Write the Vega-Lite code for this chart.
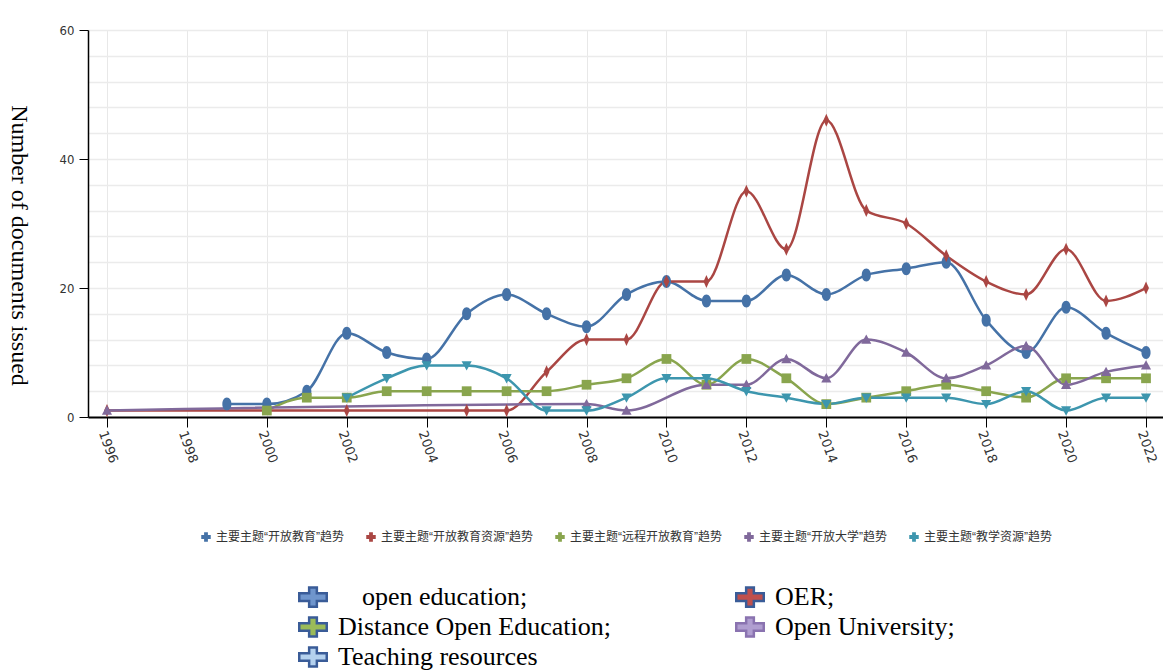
{
  "$schema": "https://vega.github.io/schema/vega-lite/v6.json",
  "width": 1075,
  "height": 387,
  "autosize": {"type": "none"},
  "padding": {"left": 88, "top": 30, "right": 0, "bottom": 254},
  "background": "white",
  "config": {"view": {"stroke": null}},
  "datasets": {
    "d": [
      {"year":1999,"value":2,"series":"主要主题“开放教育”趋势","en":"open education;"},
      {"year":2000,"value":2,"series":"主要主题“开放教育”趋势","en":"open education;"},
      {"year":2001,"value":4,"series":"主要主题“开放教育”趋势","en":"open education;"},
      {"year":2002,"value":13,"series":"主要主题“开放教育”趋势","en":"open education;"},
      {"year":2003,"value":10,"series":"主要主题“开放教育”趋势","en":"open education;"},
      {"year":2004,"value":9,"series":"主要主题“开放教育”趋势","en":"open education;"},
      {"year":2005,"value":16,"series":"主要主题“开放教育”趋势","en":"open education;"},
      {"year":2006,"value":19,"series":"主要主题“开放教育”趋势","en":"open education;"},
      {"year":2007,"value":16,"series":"主要主题“开放教育”趋势","en":"open education;"},
      {"year":2008,"value":14,"series":"主要主题“开放教育”趋势","en":"open education;"},
      {"year":2009,"value":19,"series":"主要主题“开放教育”趋势","en":"open education;"},
      {"year":2010,"value":21,"series":"主要主题“开放教育”趋势","en":"open education;"},
      {"year":2011,"value":18,"series":"主要主题“开放教育”趋势","en":"open education;"},
      {"year":2012,"value":18,"series":"主要主题“开放教育”趋势","en":"open education;"},
      {"year":2013,"value":22,"series":"主要主题“开放教育”趋势","en":"open education;"},
      {"year":2014,"value":19,"series":"主要主题“开放教育”趋势","en":"open education;"},
      {"year":2015,"value":22,"series":"主要主题“开放教育”趋势","en":"open education;"},
      {"year":2016,"value":23,"series":"主要主题“开放教育”趋势","en":"open education;"},
      {"year":2017,"value":24,"series":"主要主题“开放教育”趋势","en":"open education;"},
      {"year":2018,"value":15,"series":"主要主题“开放教育”趋势","en":"open education;"},
      {"year":2019,"value":10,"series":"主要主题“开放教育”趋势","en":"open education;"},
      {"year":2020,"value":17,"series":"主要主题“开放教育”趋势","en":"open education;"},
      {"year":2021,"value":13,"series":"主要主题“开放教育”趋势","en":"open education;"},
      {"year":2022,"value":10,"series":"主要主题“开放教育”趋势","en":"open education;"},

      {"year":1996,"value":1,"series":"主要主题“开放教育资源”趋势","en":"OER;"},
      {"year":2002,"value":1,"series":"主要主题“开放教育资源”趋势","en":"OER;"},
      {"year":2005,"value":1,"series":"主要主题“开放教育资源”趋势","en":"OER;"},
      {"year":2006,"value":1,"series":"主要主题“开放教育资源”趋势","en":"OER;"},
      {"year":2007,"value":7,"series":"主要主题“开放教育资源”趋势","en":"OER;"},
      {"year":2008,"value":12,"series":"主要主题“开放教育资源”趋势","en":"OER;"},
      {"year":2009,"value":12,"series":"主要主题“开放教育资源”趋势","en":"OER;"},
      {"year":2010,"value":21,"series":"主要主题“开放教育资源”趋势","en":"OER;"},
      {"year":2011,"value":21,"series":"主要主题“开放教育资源”趋势","en":"OER;"},
      {"year":2012,"value":35,"series":"主要主题“开放教育资源”趋势","en":"OER;"},
      {"year":2013,"value":26,"series":"主要主题“开放教育资源”趋势","en":"OER;"},
      {"year":2014,"value":46,"series":"主要主题“开放教育资源”趋势","en":"OER;"},
      {"year":2015,"value":32,"series":"主要主题“开放教育资源”趋势","en":"OER;"},
      {"year":2016,"value":30,"series":"主要主题“开放教育资源”趋势","en":"OER;"},
      {"year":2017,"value":25,"series":"主要主题“开放教育资源”趋势","en":"OER;"},
      {"year":2018,"value":21,"series":"主要主题“开放教育资源”趋势","en":"OER;"},
      {"year":2019,"value":19,"series":"主要主题“开放教育资源”趋势","en":"OER;"},
      {"year":2020,"value":26,"series":"主要主题“开放教育资源”趋势","en":"OER;"},
      {"year":2021,"value":18,"series":"主要主题“开放教育资源”趋势","en":"OER;"},
      {"year":2022,"value":20,"series":"主要主题“开放教育资源”趋势","en":"OER;"},

      {"year":2000,"value":1,"series":"主要主题“远程开放教育”趋势","en":"Distance Open Education;"},
      {"year":2001,"value":3,"series":"主要主题“远程开放教育”趋势","en":"Distance Open Education;"},
      {"year":2002,"value":3,"series":"主要主题“远程开放教育”趋势","en":"Distance Open Education;"},
      {"year":2003,"value":4,"series":"主要主题“远程开放教育”趋势","en":"Distance Open Education;"},
      {"year":2004,"value":4,"series":"主要主题“远程开放教育”趋势","en":"Distance Open Education;"},
      {"year":2005,"value":4,"series":"主要主题“远程开放教育”趋势","en":"Distance Open Education;"},
      {"year":2006,"value":4,"series":"主要主题“远程开放教育”趋势","en":"Distance Open Education;"},
      {"year":2007,"value":4,"series":"主要主题“远程开放教育”趋势","en":"Distance Open Education;"},
      {"year":2008,"value":5,"series":"主要主题“远程开放教育”趋势","en":"Distance Open Education;"},
      {"year":2009,"value":6,"series":"主要主题“远程开放教育”趋势","en":"Distance Open Education;"},
      {"year":2010,"value":9,"series":"主要主题“远程开放教育”趋势","en":"Distance Open Education;"},
      {"year":2011,"value":5,"series":"主要主题“远程开放教育”趋势","en":"Distance Open Education;"},
      {"year":2012,"value":9,"series":"主要主题“远程开放教育”趋势","en":"Distance Open Education;"},
      {"year":2013,"value":6,"series":"主要主题“远程开放教育”趋势","en":"Distance Open Education;"},
      {"year":2014,"value":2,"series":"主要主题“远程开放教育”趋势","en":"Distance Open Education;"},
      {"year":2015,"value":3,"series":"主要主题“远程开放教育”趋势","en":"Distance Open Education;"},
      {"year":2016,"value":4,"series":"主要主题“远程开放教育”趋势","en":"Distance Open Education;"},
      {"year":2017,"value":5,"series":"主要主题“远程开放教育”趋势","en":"Distance Open Education;"},
      {"year":2018,"value":4,"series":"主要主题“远程开放教育”趋势","en":"Distance Open Education;"},
      {"year":2019,"value":3,"series":"主要主题“远程开放教育”趋势","en":"Distance Open Education;"},
      {"year":2020,"value":6,"series":"主要主题“远程开放教育”趋势","en":"Distance Open Education;"},
      {"year":2021,"value":6,"series":"主要主题“远程开放教育”趋势","en":"Distance Open Education;"},
      {"year":2022,"value":6,"series":"主要主题“远程开放教育”趋势","en":"Distance Open Education;"},

      {"year":1996,"value":1,"series":"主要主题“开放大学”趋势","en":"Open University;"},
      {"year":2008,"value":2,"series":"主要主题“开放大学”趋势","en":"Open University;"},
      {"year":2009,"value":1,"series":"主要主题“开放大学”趋势","en":"Open University;"},
      {"year":2011,"value":5,"series":"主要主题“开放大学”趋势","en":"Open University;"},
      {"year":2012,"value":5,"series":"主要主题“开放大学”趋势","en":"Open University;"},
      {"year":2013,"value":9,"series":"主要主题“开放大学”趋势","en":"Open University;"},
      {"year":2014,"value":6,"series":"主要主题“开放大学”趋势","en":"Open University;"},
      {"year":2015,"value":12,"series":"主要主题“开放大学”趋势","en":"Open University;"},
      {"year":2016,"value":10,"series":"主要主题“开放大学”趋势","en":"Open University;"},
      {"year":2017,"value":6,"series":"主要主题“开放大学”趋势","en":"Open University;"},
      {"year":2018,"value":8,"series":"主要主题“开放大学”趋势","en":"Open University;"},
      {"year":2019,"value":11,"series":"主要主题“开放大学”趋势","en":"Open University;"},
      {"year":2020,"value":5,"series":"主要主题“开放大学”趋势","en":"Open University;"},
      {"year":2021,"value":7,"series":"主要主题“开放大学”趋势","en":"Open University;"},
      {"year":2022,"value":8,"series":"主要主题“开放大学”趋势","en":"Open University;"},

      {"year":2002,"value":3,"series":"主要主题“教学资源”趋势","en":"Teaching resources"},
      {"year":2003,"value":6,"series":"主要主题“教学资源”趋势","en":"Teaching resources"},
      {"year":2004,"value":8,"series":"主要主题“教学资源”趋势","en":"Teaching resources"},
      {"year":2005,"value":8,"series":"主要主题“教学资源”趋势","en":"Teaching resources"},
      {"year":2006,"value":6,"series":"主要主题“教学资源”趋势","en":"Teaching resources"},
      {"year":2007,"value":1,"series":"主要主题“教学资源”趋势","en":"Teaching resources"},
      {"year":2008,"value":1,"series":"主要主题“教学资源”趋势","en":"Teaching resources"},
      {"year":2009,"value":3,"series":"主要主题“教学资源”趋势","en":"Teaching resources"},
      {"year":2010,"value":6,"series":"主要主题“教学资源”趋势","en":"Teaching resources"},
      {"year":2011,"value":6,"series":"主要主题“教学资源”趋势","en":"Teaching resources"},
      {"year":2012,"value":4,"series":"主要主题“教学资源”趋势","en":"Teaching resources"},
      {"year":2013,"value":3,"series":"主要主题“教学资源”趋势","en":"Teaching resources"},
      {"year":2014,"value":2,"series":"主要主题“教学资源”趋势","en":"Teaching resources"},
      {"year":2015,"value":3,"series":"主要主题“教学资源”趋势","en":"Teaching resources"},
      {"year":2016,"value":3,"series":"主要主题“教学资源”趋势","en":"Teaching resources"},
      {"year":2017,"value":3,"series":"主要主题“教学资源”趋势","en":"Teaching resources"},
      {"year":2018,"value":2,"series":"主要主题“教学资源”趋势","en":"Teaching resources"},
      {"year":2019,"value":4,"series":"主要主题“教学资源”趋势","en":"Teaching resources"},
      {"year":2020,"value":1,"series":"主要主题“教学资源”趋势","en":"Teaching resources"},
      {"year":2021,"value":3,"series":"主要主题“教学资源”趋势","en":"Teaching resources"},
      {"year":2022,"value":3,"series":"主要主题“教学资源”趋势","en":"Teaching resources"}
    ]
  },
  "data": {"name": "d"},
  "encoding": {
    "x": {
      "field": "year", "type": "quantitative",
      "scale": {"domain": [1995.525, 2022.425], "nice": false, "zero": false},
      "axis": {
        "title": null,
        "values": [1996,1998,2000,2002,2004,2006,2008,2010,2012,2014,2016,2018,2020,2022],
        "format": "d",
        "labelAngle": 70, "labelAlign": "left", "labelBaseline": "middle",
        "labelFont": "DejaVu Sans", "labelFontSize": 13, "labelColor": "#333333",
        "labelPadding": 4, "labelOffset": -5, "labelOverlap": false, "labelBound": false,
        "tickSize": 10, "tickColor": "#000000", "tickWidth": 1,
        "domainColor": "#000000", "domainWidth": 2,
        "grid": true, "gridColor": "#e8e8e8", "gridWidth": 1
      }
    },
    "y": {
      "field": "value", "type": "quantitative",
      "scale": {"domain": [0, 60], "nice": false},
      "axis": {
        "title": "Number of documents issued",
        "titleFont": "Liberation Serif", "titleFontSize": 24, "titleFontWeight": "normal",
        "titleColor": "#000000", "titleAngle": 90, "titleX": -70, "titleY": 215,
        "titleAlign": "center", "titleBaseline": "middle",
        "values": [0,4,8,12,16,20,24,28,32,36,40,44,48,52,56,60],
        "labelExpr": "datum.value % 20 === 0 ? datum.label : ''",
        "labelFont": "DejaVu Sans Condensed, DejaVu Sans", "labelFontSize": 13, "labelColor": "#333333",
        "labelPadding": 5,
        "tickSize": 9, "tickColor": "#000000",
        "tickOpacity": {"condition": {"test": "datum.value % 20 === 0", "value": 1}, "value": 0},
        "domainColor": "#000000", "domainWidth": 1.5,
        "grid": true, "gridColor": "#ebebeb", "gridWidth": 1.5
      }
    }
  },
  "layer": [
    {
      "mark": {"type": "line", "interpolate": "monotone", "strokeWidth": 2.5},
      "encoding": {
        "stroke": {
          "field": "series", "type": "nominal",
          "scale": {
            "domain": ["主要主题“开放教育”趋势","主要主题“开放教育资源”趋势","主要主题“远程开放教育”趋势","主要主题“开放大学”趋势","主要主题“教学资源”趋势"],
            "range": ["#4572A7","#AA4643","#89A54E","#80699B","#3D96AE"]
          },
          "legend": {
            "title": null, "orient": "none", "direction": "horizontal",
            "legendX": 112, "legendY": 501,
            "symbolType": "cross", "symbolSize": 90,
            "labelFont": "Liberation Sans, Noto Sans CJK SC", "labelFontSize": 12, "labelColor": "#333333",
            "labelOffset": 4, "columnPadding": 21, "labelLimit": 400,
            "encode": {"symbols": {"update": {
              "shape": {"value": "cross"},
              "size": {"value": 90},
              "fill": {"scale": "stroke", "field": "value"},
              "stroke": {"value": "transparent"},
              "strokeWidth": {"value": 0},
              "opacity": {"value": 1}
            }}}
          }
        }
      }
    },
    {
      "transform": [{"filter": "datum.series === '主要主题“开放教育”趋势'"}],
      "mark": {"type": "point", "filled": true, "opacity": 1, "size": 169, "color": "#4572A7",
               "shape": "M0,-1C0.45,-1 0.7,-0.5 0.7,0C0.7,0.5 0.45,1 0,1C-0.45,1 -0.7,0.5 -0.7,0C-0.7,-0.5 -0.45,-1 0,-1Z"},
      "encoding": {}
    },
    {
      "transform": [{"filter": "datum.series === '主要主题“开放教育资源”趋势'"}],
      "mark": {"type": "point", "filled": true, "opacity": 1, "size": 169, "color": "#AA4643",
               "shape": "M0,-1L0.45,0L0,1L-0.45,0Z"},
      "encoding": {}
    },
    {
      "transform": [{"filter": "datum.series === '主要主题“远程开放教育”趋势'"}],
      "mark": {"type": "point", "filled": true, "opacity": 1, "size": 169, "color": "#89A54E",
               "shape": "M-0.75,-0.75L0.75,-0.75L0.75,0.75L-0.75,0.75Z"},
      "encoding": {}
    },
    {
      "transform": [{"filter": "datum.series === '主要主题“开放大学”趋势'"}],
      "mark": {"type": "point", "filled": true, "opacity": 1, "size": 169, "color": "#80699B",
               "shape": "M0,-0.8L0.78,0.65L-0.78,0.65Z"},
      "encoding": {}
    },
    {
      "transform": [{"filter": "datum.series === '主要主题“教学资源”趋势'"}],
      "mark": {"type": "point", "filled": true, "opacity": 1, "size": 169, "color": "#3D96AE",
               "shape": "M-0.78,-0.65L0.78,-0.65L0,0.8Z"},
      "encoding": {}
    },
    {
      "mark": {"type": "point", "filled": true, "opacity": 0, "size": 1},
      "encoding": {
        "fill": {
          "field": "en", "type": "nominal",
          "scale": {
            "domain": ["open education;","Distance Open Education;","Teaching resources","OER;","Open University;"],
            "range": ["#6f95cc","#9bbb59","#b4d1ee","#c0504d","#b09ed0"]
          },
          "legend": {
            "title": null, "orient": "none", "direction": "vertical", "columns": 2,
            "legendX": 210, "legendY": 552,
            "symbolType": "M-1,-0.28L-0.28,-0.28L-0.28,-0.7L0.28,-0.7L0.28,-0.28L1,-0.28L1,0.28L0.28,0.28L0.28,0.7L-0.28,0.7L-0.28,0.28L-1,0.28Z",
            "symbolSize": 756,
            "labelFont": "Liberation Serif", "labelFontSize": 26, "labelColor": "#000000",
            "labelOffset": 10, "columnPadding": 120, "rowPadding": 0, "labelLimit": 600,
            "encode": {
              "symbols": {"update": {
                "size": {"value": 756},
                "fill": {"scale": "fill", "field": "value"},
                "stroke": {"signal": "datum.value === 'Open University;' ? '#8a73b0' : '#3a5c98'"},
                "strokeWidth": {"value": 2.5},
                "opacity": {"value": 1}
              }},
              "labels": {"update": {
                "dx": {"signal": "datum.value === 'open education;' ? 24 : 0"}
              }}
            }
          }
        }
      }
    }
  ]
}
